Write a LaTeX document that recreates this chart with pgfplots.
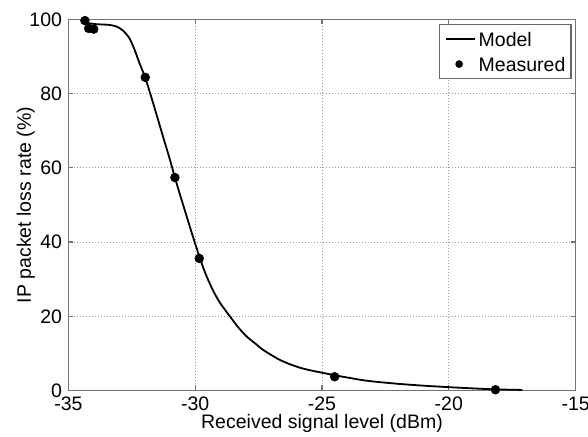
\documentclass[border=0pt]{standalone}
\usepackage{pgfplots}
\pgfplotsset{compat=1.18}
\usepackage{fontspec}
\setmainfont{Liberation Sans}
\newcommand{\chartfont}{\fontsize{9.75}{11.7}\selectfont}
\begin{document}
\chartfont
\begin{tikzpicture}
\useasboundingbox (-34.2pt,-23.2pt) rectangle (259.8pt,195.25pt);
\begin{axis}[
  at={(0,0)}, anchor=south west,
  scale only axis, width=253.6pt, height=185.5pt,
  xmin=-35, xmax=-15, ymin=0, ymax=100,
  xtick={-35,-30,-25,-20,-15}, ytick={0,20,40,60,80,100},
  /pgf/number format/assume math mode=true,
  tick label style={font=\chartfont},
  yticklabel style={inner sep=0pt, xshift=-3pt},
  xticklabel style={inner sep=0pt, yshift=-3pt},
  label style={font=\chartfont},
  xlabel={Received signal level (dBm)},
  ylabel={IP packet loss rate (\%)},
  xlabel style={inner sep=0pt, yshift=-1.5pt},
  ylabel style={inner sep=0pt, at={(axis description cs:-0.084,0.5)}, anchor=center},
  tick align=inside, major tick length=2.5pt,
  every tick/.style={black!55, line width=0.6pt},
  axis line style={black!55, line width=0.6pt},
  grid=major,
  major grid style={black!40, line width=0.5pt, dash pattern=on 0.5pt off 1pt},
  legend cell align=left,
  legend style={at={(1,1)}, anchor=north east, xshift=-2pt, yshift=-2.4pt,
    draw=black!60, line width=0.6pt, font=\chartfont,
    inner xsep=2.8pt, inner ysep=3.6pt, row sep=5.5pt, column sep=1.35pt,
    nodes={inner sep=0pt, text height=7pt, text depth=0pt}},
]
\addplot[black, line width=0.9pt, smooth, tension=0.5,
  legend image code/.code={\draw[black, line width=0.65pt] (0pt,0pt) -- (14.8pt,0pt);}]
coordinates {
(-34.35,99.2) (-34.0,98.8) (-33.7,98.65) (-33.4,98.55) (-33.1,98.1)
(-32.85,97.0) (-32.6,95.0) (-32.4,92.0) (-32.2,88.3) (-31.97,84.3)
(-31.78,80.2) (-31.5,73.8) (-31.25,68.0) (-31.0,62.3) (-30.8,57.4)
(-30.6,52.8) (-30.33,46.8) (-30.1,41.7) (-29.84,36.2) (-29.6,31.6)
(-29.3,27.0) (-29.0,23.4) (-28.62,19.9) (-28.3,17.0) (-27.96,14.5)
(-27.6,12.5) (-27.31,10.9) (-26.65,8.2) (-25.99,6.4) (-25.5,5.5)
(-25.0,4.8) (-24.5,4.1) (-24.0,3.5) (-23.2,2.6) (-22.0,1.8)
(-21.0,1.3) (-20.0,0.9) (-19.0,0.55) (-18.16,0.3) (-17.1,0.15)
};
\addlegendentry{Model}
\addplot[only marks, mark=*, mark size=2.15pt, black,
  legend image code/.code={\path[draw=none,fill=none] (0pt,0pt) -- (14.8pt,0pt);
    \fill[black] plot[mark=*, mark size=1.6pt, only marks] coordinates {(6.7pt,0pt)};}]
coordinates {
(-34.35,99.7) (-34.2,97.6) (-34.0,97.4) (-31.97,84.4)
(-30.8,57.4) (-29.84,35.6) (-24.5,3.7) (-18.16,0.2)
};
\addlegendentry{Measured}
\end{axis}
\end{tikzpicture}
\end{document}
